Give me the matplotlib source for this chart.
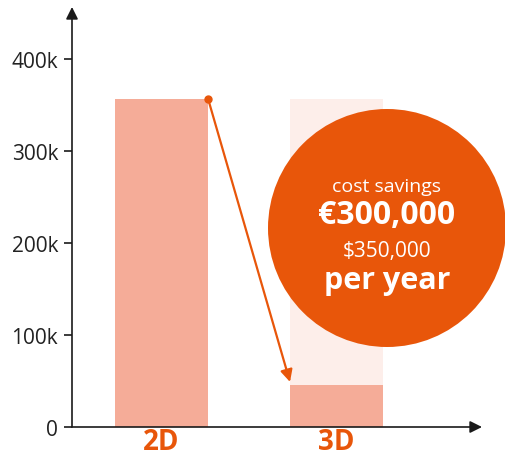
import matplotlib
matplotlib.use("Agg")
import matplotlib.pyplot as plt
from matplotlib.patches import Ellipse

categories = ["2D", "3D"]
costs = [357000, 46000]
ghost_3d = 357000
yticks = [0, 100000, 200000, 300000, 400000]
ytick_labels = ["0", "100k", "200k", "300k", "400k"]
bubble_lines = ["cost savings", "€300,000", "$350,000", "per year"]

ORANGE = "#E8560A"
BAR = "#F5AC98"
GHOST = "#FDEEEA"
AXIS = "#1a1a1a"

plt.rcParams['font.family'] = ['Open Sans', 'DejaVu Sans']

fig = plt.figure(figsize=(5.06, 4.60), dpi=100)
ax = fig.add_axes([72/506, 32/460, 410/506, 420/460])
ax.set_xlim(-89.5/175, (410-89.5)/175)
ax.set_ylim(0, 420/0.92*1000)

w = 93/175
x = list(range(len(categories)))
ax.bar([x[1]], [ghost_3d], width=w, color=GHOST, zorder=1)
ax.bar(x, costs, width=w, color=BAR, zorder=2)

# circle bubble
cx = (387-72-89.5)/175
cy = (428-229)/0.92*1000
ax.add_patch(Ellipse((cx, cy), 238/175, 238/0.92*1000, color=ORANGE,
                     zorder=3, clip_on=False, lw=0))
ypx = [187, 216, 251, 281]
sizes = [14, 23, 15, 22]
weights = ["normal", "bold", "normal", "bold"]
for t, yp, s, wt in zip(bubble_lines, ypx, sizes, weights):
    ax.text(cx, (428-yp)/0.92*1000, t, ha="center", va="center", color="white",
            fontsize=s, fontweight=wt, zorder=4, clip_on=False)

# drop arrow
x0 = x[0] + w/2
x1 = x[1] - w/2
ax.annotate("", xy=(x1, costs[1] + 3000), xytext=(x0, costs[0]),
            arrowprops=dict(arrowstyle="-|>", color=ORANGE, lw=1.6,
                            mutation_scale=18, shrinkA=0, shrinkB=0), zorder=5)
ax.plot([x0], [costs[0]], "o", color=ORANGE, ms=5, zorder=6, clip_on=False)

# axes
for s in ax.spines.values():
    s.set_visible(False)
ax.annotate("", xy=(0, 1), xytext=(0, 0), xycoords="axes fraction",
            arrowprops=dict(arrowstyle="-|>", color=AXIS, lw=1.2,
                            mutation_scale=18, shrinkA=0, shrinkB=0))
ax.annotate("", xy=(1, 0), xytext=(0, 0), xycoords="axes fraction",
            arrowprops=dict(arrowstyle="-|>", color=AXIS, lw=1.2,
                            mutation_scale=18, shrinkA=0, shrinkB=0))

ax.set_yticks(yticks)
ax.set_yticklabels(ytick_labels, fontsize=15, color="#222222")
ax.tick_params(axis="y", length=6, width=1.2, color=AXIS, pad=4)
ax.set_xticks(x)
ax.set_xticklabels(categories, fontsize=20, fontweight="bold", color=ORANGE)
ax.tick_params(axis="x", length=0, pad=0)

fig.savefig("out.png", dpi=100)
